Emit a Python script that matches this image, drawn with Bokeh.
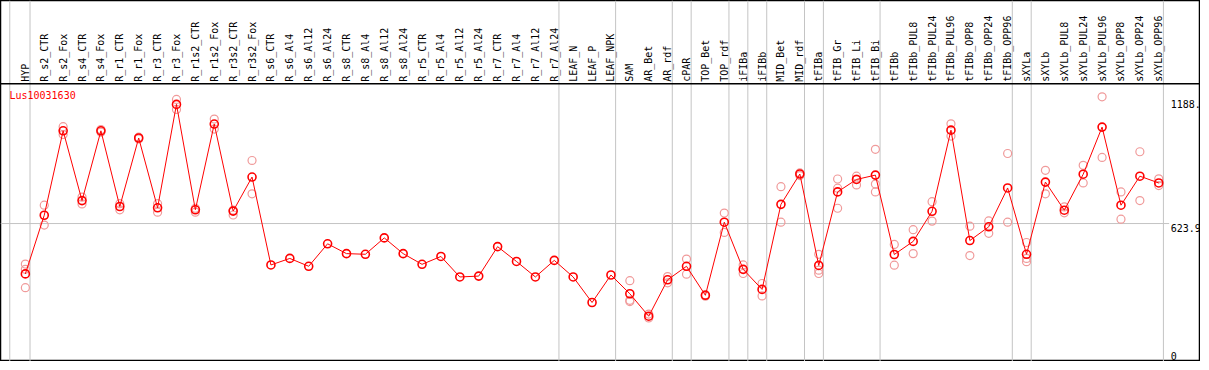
import math
from bokeh.plotting import figure
from bokeh.models import Range1d
from bokeh.core.properties import value
from bokeh.embed import file_html
from bokeh.resources import INLINE

title = "Lus10031630"

samples = ["HYP", "R_s2_CTR", "R_s2_Fox", "R_s4_CTR", "R_s4_Fox", "R_r1_CTR", "R_r1_Fox",
           "R_r3_CTR", "R_r3_Fox", "R_r1s2_CTR", "R_r1s2_Fox", "R_r3s2_CTR", "R_r3s2_Fox",
           "R_s6_CTR", "R_s6_Al4", "R_s6_Al12", "R_s6_Al24", "R_s8_CTR", "R_s8_Al4",
           "R_s8_Al12", "R_s8_Al24", "R_r5_CTR", "R_r5_Al4", "R_r5_Al12", "R_r5_Al24",
           "R_r7_CTR", "R_r7_Al4", "R_r7_Al12", "R_r7_Al24", "LEAF_N", "LEAF_P", "LEAF_NPK",
           "SAM", "AR_Bet", "AR_rdf", "cPAR", "TOP_Bet", "TOP_rdf", "iFIBa", "iFIBb",
           "MID_Bet", "MID_rdf", "tFIBa", "tFIB_Gr", "tFIB_Li", "tFIB_Bi", "tFIBb",
           "tFIBb_PUL8", "tFIBb_PUL24", "tFIBb_PUL96", "tFIBb_OPP8", "tFIBb_OPP24",
           "tFIBb_OPP96", "sXYLa", "sXYLb", "sXYLb_PUL8", "sXYLb_PUL24", "sXYLb_PUL96",
           "sXYLb_OPP8", "sXYLb_OPP24", "sXYLb_OPP96"]

means = [393, 662, 1049, 729, 1049, 702, 1016, 696, 1170, 687, 1080, 681, 837,
         434, 464, 428, 531, 486, 483, 558, 486, 437, 473, 379, 383, 518, 450, 379, 455,
         379, 262, 388, 302, 199, 366, 428, 295, 630, 414, 322, 712, 851, 432, 769, 826,
         846, 482, 542, 680, 1052, 546, 609, 787, 483, 814, 685, 850, 1066, 708, 841, 810]

replicates = [[438, 414, 330], [708, 617], [1068, 1032], [745, 714], [1055, 1043],
              [715, 687], [1020, 1012], [715, 676], [1193, 1147], [694, 676],
              [1103, 1057], [685, 663], [913, 760],
              [], [], [], [], [], [], [], [], [], [], [], [], [], [], [], [], [], [], [],
              [362, 272, 266], [209, 191], [381, 352], [461, 392], [298, 291],
              [672, 583], [434, 395], [349, 292], [793, 630], [856, 844],
              [483, 410, 395], [828, 786, 694], [841, 828, 801], [964, 805, 769],
              [528, 433], [596, 486], [724, 635], [1081, 1025], [612, 477], [636, 579],
              [945, 630], [537, 464, 449], [868, 760], [700, 673], [891, 810],
              [1205, 927], [769, 644], [953, 729], [829, 798]]

group_ends = ["HYP", "R_r7_Al24", "LEAF_NPK", "AR_rdf", "cPAR", "TOP_rdf", "iFIBa",
              "iFIBb", "MID_rdf", "tFIBa", "tFIB_Bi", "tFIBb_OPP96", "sXYLa", "sXYLb_OPP96"]

axis_labels = ["1188.", "623.9", "0"]
axis_values = [1188, 623.9, 0]

# ---- layout (value per reference pixel) ----
VPP = 4.491
Y0PIX = 366.6
def ypix(py):
    return (Y0PIX - py) * VPP

x_lo, x_hi = -1.316, 62.21
y_lo, y_hi = ypix(368.5), ypix(0)
sep_y = ypix(85)

p = figure(width=1200, height=361, output_backend="svg", toolbar_location=None,
           x_axis_type=None, y_axis_type=None, min_border=0,
           x_range=Range1d(x_lo, x_hi), y_range=Range1d(y_lo, y_hi))
p.grid.visible = False
p.outline_line_color = "black"
p.outline_line_width = 1.5
p.background_fill_color = "white"

xs = list(range(len(samples)))
mono = value("DejaVu Sans Mono")

# vertical group separators
vx = [-0.826] + [samples.index(g) + 0.247 for g in group_ends]
p.segment(x0=vx, x1=vx, y0=[y_lo] * len(vx), y1=[y_hi] * len(vx),
          line_color="#c4c4c4", line_width=1)

# horizontal reference line
p.segment(x0=[x_lo], x1=[60.55], y0=[axis_values[1]], y1=[axis_values[1]],
          line_color="#c4c4c4", line_width=1)

# label separator line
p.segment(x0=[x_lo], x1=[x_hi], y0=[sep_y], y1=[sep_y], line_color="black", line_width=1.5)

# sample labels
p.text(x=xs, y=[ypix(83)] * len(xs), text=samples, angle=math.pi / 2,
       text_align="left", text_baseline="middle", text_font=mono,
       text_font_size="10px", text_color="black")

# replicate points
rx, ry = [], []
for i, reps in enumerate(replicates):
    for r in reps:
        rx.append(i)
        ry.append(r)
p.scatter(rx, ry, marker="circle", size=8, fill_alpha=0, line_color="#f09a9a", line_width=1.2)

# mean line and points
p.line(xs, means, line_color="red", line_width=1)
p.scatter(xs, means, marker="circle", size=8, fill_alpha=0, line_color="red", line_width=1.6)

# title
p.text(x=[-0.842], y=[ypix(96.7)], text=[title], text_align="left", text_baseline="middle",
       text_font=mono, text_font_size="10px", text_color="red")

# right-side value labels
ax_x = [60.63] * 3
p.text(x=ax_x[:2], y=axis_values[:2], text=axis_labels[:2], text_align="left",
       text_baseline="top", text_font=mono, text_font_size="10px", text_color="black")
p.text(x=ax_x[2:], y=[ypix(366.5)], text=axis_labels[2:], text_align="left",
       text_baseline="bottom", text_font=mono, text_font_size="10px", text_color="black")

open("out.html", "w").write(file_html(p, INLINE))
